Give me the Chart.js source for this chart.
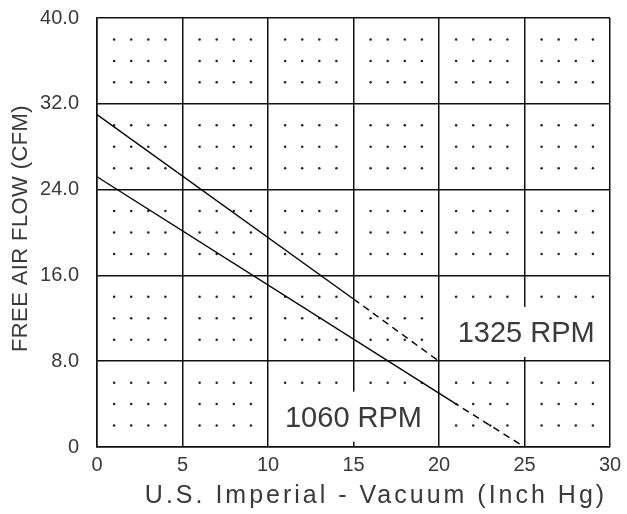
<!DOCTYPE html>
<html>
<head>
<meta charset="utf-8">
<script src="https://cdn.jsdelivr.net/npm/chart.js@4.4.0/dist/chart.umd.min.js"></script>
<style>
  body { margin: 0; background: #fff; }
  #wrap { width: 627px; height: 514px; }
</style>
</head>
<body>
<div id="wrap"><canvas id="chart"></canvas></div>
<script>
// Curve data
const vacuum1325 = [0, 15, 20];
const flow1325 = [31.0, 13.8, 8.0];
const vacuum1060 = [0, 20.8, 25];
const flow1060 = [25.2, 4.2, 0];

const xTicks = [0, 5, 10, 15, 20, 25, 30];
const yTicks = [0, 8, 16, 24, 32, 40];

// Curve labels: [text, x value of centre, y value of baseline]
const curveLabels = [
    ['1325 RPM', 25.1, 9.8],
    ['1060 RPM', 15.0, 1.9]
];

const xTitle = 'U.S. Imperial - Vacuum (Inch Hg)';
const yTitle = 'FREE AIR FLOW (CFM)';

const textColor = '#3a3a3a';
const fontFamily = "'Liberation Sans', Arial, sans-serif";

// Dots inside each grid cell (every 1 on x, every 2 on y), curve labels and axis titles
const dotGrid = {
    id: 'dotGrid',
    beforeDatasetsDraw(chart) {
        const { ctx, scales: { x, y } } = chart;
        ctx.save();
        ctx.fillStyle = '#222';
        for (let i = 1; i < 30; i++) {
            if (i % 5 === 0) continue;
            for (let j = 2; j < 40; j += 2) {
                if (j % 8 === 0) continue;
                ctx.beginPath();
                ctx.arc(x.getPixelForValue(i), y.getPixelForValue(j), 1.25, 0, Math.PI * 2);
                ctx.fill();
            }
        }
        // label boxes knock out grid behind text
        ctx.font = '29px ' + fontFamily;
        ctx.textAlign = 'center';
        ctx.textBaseline = 'alphabetic';
        curveLabels.forEach(([text, vx, vy]) => {
            const px = x.getPixelForValue(vx);
            const py = y.getPixelForValue(vy);
            const w = ctx.measureText(text).width;
            ctx.fillStyle = '#fff';
            ctx.fillRect(px - w / 2 - 9, py - 35, w + 18, 50);
            ctx.fillStyle = textColor;
            ctx.fillText(text, px, py);
        });
        ctx.restore();
    },
    afterDraw(chart) {
        const { ctx, chartArea } = chart;
        ctx.save();
        ctx.fillStyle = textColor;
        ctx.textAlign = 'center';
        ctx.textBaseline = 'middle';
        ctx.font = '25px ' + fontFamily;
        ctx.letterSpacing = '3px';
        ctx.fillText(xTitle, 376, 496);
        ctx.font = '22px ' + fontFamily;
        ctx.letterSpacing = '0.4px';
        ctx.translate(21, (chartArea.top + chartArea.bottom) / 2 - 4);
        ctx.rotate(-Math.PI / 2);
        ctx.fillText(yTitle, 0, 0);
        ctx.restore();
    }
};

function toPoints(xs, ys) {
    return xs.map((v, i) => ({ x: v, y: ys[i] }));
}

const dashAfterFirst = {
    borderDash: ctx => ctx.p0DataIndex >= 1 ? [7, 5] : undefined
};

const lineStyle = {
    borderColor: '#000',
    borderWidth: 1.4,
    pointRadius: 0,
    fill: false,
    tension: 0,
    segment: dashAfterFirst
};

new Chart(document.getElementById('chart'), {
    type: 'scatter',
    data: {
        datasets: [
            { label: '1325 RPM', data: toPoints(vacuum1325, flow1325), showLine: true, ...lineStyle },
            { label: '1060 RPM', data: toPoints(vacuum1060, flow1060), showLine: true, ...lineStyle }
        ]
    },
    plugins: [dotGrid],
    options: {
        responsive: true,
        maintainAspectRatio: false,
        animation: false,
        layout: { padding: { top: 18, right: 17, left: 0, bottom: 0 } },
        plugins: {
            legend: { display: false },
            tooltip: { enabled: false }
        },
        scales: {
            x: {
                type: 'linear',
                min: 0,
                max: 30,
                afterBuildTicks: axis => { axis.ticks = xTicks.map(v => ({ value: v })); },
                afterFit: axis => {
                    axis.height = 67;
                    axis.paddingLeft = 0;
                    axis.paddingRight = 0;
                },
                grid: { color: '#111', lineWidth: 1.5, drawTicks: false },
                border: { color: '#111', width: 1.5 },
                ticks: {
                    color: textColor,
                    padding: 6,
                    font: { family: fontFamily, size: 20 },
                    maxRotation: 0
                }
            },
            y: {
                type: 'linear',
                min: 0,
                max: 40,
                afterBuildTicks: axis => { axis.ticks = yTicks.map(v => ({ value: v })); },
                afterFit: axis => {
                    axis.width = 97;
                    axis.paddingTop = 0;
                    axis.paddingBottom = 0;
                },
                grid: { color: '#111', lineWidth: 1.5, drawTicks: false },
                border: { color: '#111', width: 1.5 },
                ticks: {
                    color: textColor,
                    padding: 18,
                    font: { family: fontFamily, size: 20 },
                    callback: v => v === 0 ? '0' : v.toFixed(1)
                }
            }
        }
    }
});
</script>
</body>
</html>
